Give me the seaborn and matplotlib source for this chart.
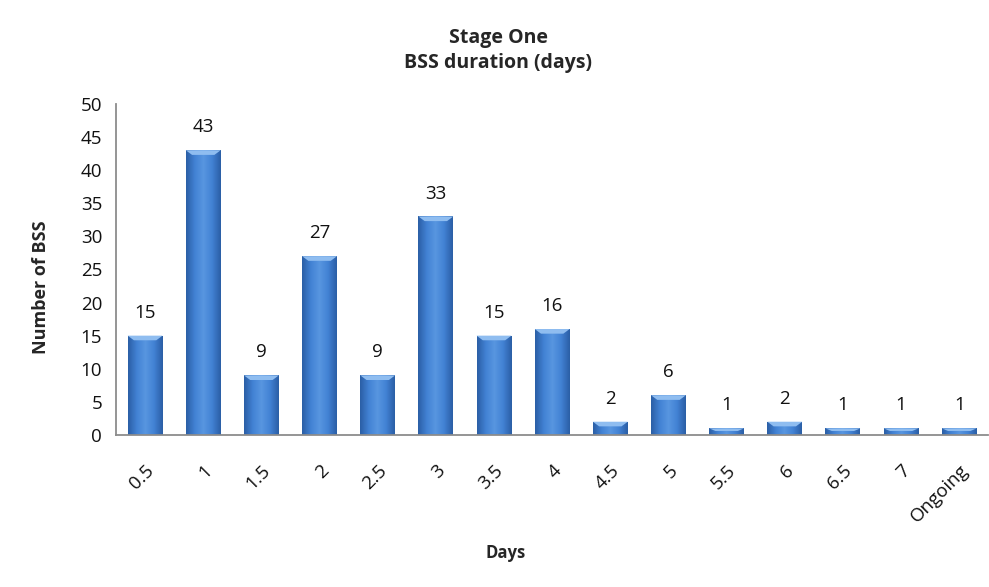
import matplotlib
matplotlib.use("Agg")
import matplotlib.pyplot as plt
import seaborn as sns
import numpy as np
import pandas as pd
from matplotlib.colors import LinearSegmentedColormap

# data
days = ['0.5', '1', '1.5', '2', '2.5', '3', '3.5', '4', '4.5', '5',
        '5.5', '6', '6.5', '7', 'Ongoing']
counts = [15, 43, 9, 27, 9, 33, 15, 16, 2, 6, 1, 2, 1, 1, 1]

sns.set_theme(style="white")
plt.rcParams['font.family'] = ['Open Sans', 'DejaVu Sans']

df = pd.DataFrame({'days': days, 'count': counts})

fig = plt.figure(figsize=(9.89, 5.87), dpi=100)
ax = fig.add_axes([0.1173, 0.259, 0.882, 0.564])

sns.barplot(data=df, x='days', y='count', color='#3D7CCF', width=0.6,
            ax=ax, saturation=1, edgecolor='none')

# Excel-like shading: darker sides, lighter centre, bevelled top
side = LinearSegmentedColormap.from_list(
    'bar', ['#2B5FA6', '#4282D4', '#5896E0', '#4282D4', '#2B5FA6'])
grad = np.linspace(0, 1, 64).reshape(1, -1)
for patch in ax.patches:
    x0, y0 = patch.get_x(), patch.get_y()
    w, h = patch.get_width(), patch.get_height()
    im = ax.imshow(grad, cmap=side, aspect='auto',
                   extent=[x0, x0 + w, y0, y0 + h], zorder=2)
    im.set_clip_path(patch)
    bevel = min(0.7, h * 0.4)
    ax.add_patch(plt.Polygon(
        [(x0, y0 + h), (x0 + w, y0 + h), (x0 + w * 0.82, y0 + h - bevel),
         (x0 + w * 0.18, y0 + h - bevel)],
        closed=True, facecolor='#8FBDF0', edgecolor='none', zorder=3))

for i, v in enumerate(counts):
    ax.annotate(str(v), (i, v), xytext=(0, 10), textcoords='offset points',
                ha='center', va='bottom', fontsize=13.5, color='#111111')

ax.set_xlim(-0.5, len(days) - 0.5)
ax.set_ylim(0, 50)
ax.set_yticks(range(0, 51, 5))
ax.tick_params(axis='both', length=0, labelsize=13.5, colors='#111111')
ax.tick_params(axis='y', pad=10)
ax.tick_params(axis='x', pad=19)
plt.setp(ax.get_xticklabels(), rotation=45, ha='right',
         rotation_mode='anchor')

for s in ['top', 'right']:
    ax.spines[s].set_visible(False)
for s in ['left', 'bottom']:
    ax.spines[s].set_color('#8C8C8C')
    ax.spines[s].set_linewidth(1.3)

ax.set_xlabel('')
ax.set_ylabel('')
fig.text(0.511, 0.058, 'Days', ha='center', va='center',
         fontsize=12, fontweight='bold')
fig.text(0.041, 0.51, 'Number of BSS', ha='center', va='center',
         rotation=90, fontsize=13, fontweight='bold')
fig.text(0.504, 0.914, 'Stage One\nBSS duration (days)', ha='center',
         va='center', fontsize=14, fontweight='bold', linespacing=1.3)

fig.savefig('out.png', dpi=100)
